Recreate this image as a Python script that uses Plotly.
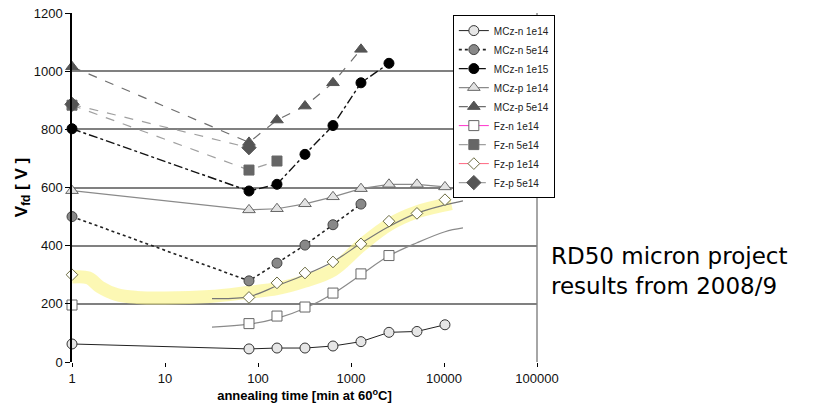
import plotly.graph_objects as go

# annealing times [min at 60 C]; the unannealed state is placed at 1
t_all = [1, 80, 160, 320, 640, 1280, 2560, 5120, 10240]

mczn_1e14 = [62, 45, 48, 48, 55, 70, 102, 105, 128]
mczn_5e14_t = [1, 80, 160, 320, 640, 1280]
mczn_5e14 = [500, 279, 340, 402, 472, 543]
mczn_1e15_t = [1, 80, 160, 320, 640, 1280, 2560]
mczn_1e15 = [802, 588, 611, 714, 813, 960, 1027]
mczp_1e14 = [589, 523, 527, 544, 568, 596, 611, 611, 602]
mczp_5e14_t = [1, 80, 160, 320, 640, 1280]
mczp_5e14 = [1015, 755, 832, 880, 960, 1075]
fzn_1e14_t = [1, 80, 160, 320, 640, 1280, 2560]
fzn_1e14 = [196, 132, 158, 189, 237, 303, 366]
fzn_5e14_t = [1, 80, 160]
fzn_5e14 = [883, 660, 691]
fzp_1e14 = [300, 222, 272, 306, 344, 406, 484, 511, 558]
fzp_5e14_t = [1, 80]
fzp_5e14 = [886, 737]

# model curves drawn through the Fz 1e14 data
fit_t = [32, 80, 160, 320, 640, 1280, 2560, 5120, 10240, 16000]
fit_fzn = [120, 130, 150, 185, 235, 300, 365, 410, 448, 461]
fit_fzp = [218, 225, 262, 300, 345, 408, 466, 512, 540, 554]

# highlighted trend band
band_t = [1, 1.5, 2, 3, 5, 10, 30, 80, 160, 320, 640, 1280, 2560, 5120, 12000]
band_v = [292, 289, 258, 232, 222, 220, 225, 240, 252, 278, 316, 400, 472, 516, 545]

yticks = [0, 200, 400, 600, 800, 1000, 1200]
xticks = [1, 10, 100, 1000, 10000, 100000]
xtick_text = ["1", "10", "100", "1000", "10000", "100000"]


def gapped(xs, ys):
    # isolated points: markers are drawn but no connecting segments
    gx, gy = [], []
    for a, b in zip(xs, ys):
        gx += [a, None]
        gy += [b, None]
    return gx, gy


fig = go.Figure()

fig.add_trace(go.Scatter(x=band_t, y=band_v, mode="lines", showlegend=False,
                         line=dict(color="rgba(250,245,140,0.65)", width=13, shape="spline"),
                         hoverinfo="skip"))
fig.add_trace(go.Scatter(x=fit_t, y=fit_fzn, mode="lines", showlegend=False,
                         line=dict(color="#8a8a8a", width=1.2, shape="spline")))
fig.add_trace(go.Scatter(x=fit_t, y=fit_fzp, mode="lines", showlegend=False,
                         line=dict(color="#777777", width=1.2, shape="spline")))

fig.add_trace(go.Scatter(x=t_all, y=mczn_1e14, mode="lines+markers", name="MCz-n 1e14",
                         line=dict(color="#222222", width=1),
                         marker=dict(symbol="circle", size=10, color="#e6e6e6",
                                     line=dict(color="#333333", width=1))))
fig.add_trace(go.Scatter(x=mczn_5e14_t, y=mczn_5e14, mode="lines+markers", name="MCz-n 5e14",
                         line=dict(color="#222222", width=1.6, dash="dot"),
                         marker=dict(symbol="circle", size=10, color="#888888",
                                     line=dict(color="#444444", width=1))))
fig.add_trace(go.Scatter(x=mczn_1e15_t, y=mczn_1e15, mode="lines+markers", name="MCz-n 1e15",
                         line=dict(color="#111111", width=1.4, dash="dashdot"),
                         marker=dict(symbol="circle", size=10, color="#000000",
                                     line=dict(color="#000000", width=1))))
fig.add_trace(go.Scatter(x=t_all, y=mczp_1e14, mode="lines+markers", name="MCz-p 1e14",
                         line=dict(color="#8a8a8a", width=1.2),
                         marker=dict(symbol="triangle-up", size=11, color="#e2e2e2",
                                     line=dict(color="#666666", width=1))))
fig.add_trace(go.Scatter(x=mczp_5e14_t, y=mczp_5e14, mode="lines+markers", name="MCz-p 5e14",
                         line=dict(color="#6e6e6e", width=1.2, dash="dash"),
                         marker=dict(symbol="triangle-up", size=11, color="#555555",
                                     line=dict(color="#555555", width=1))))
gx, gy = gapped(fzn_1e14_t, fzn_1e14)
fig.add_trace(go.Scatter(x=gx, y=gy, mode="lines+markers", name="Fz-n 1e14",
                         connectgaps=False, line=dict(color="#ff33cc", width=1),
                         marker=dict(symbol="square", size=10, color="#ffffff",
                                     line=dict(color="#666666", width=1))))
fig.add_trace(go.Scatter(x=fzn_5e14_t, y=fzn_5e14, mode="lines+markers", name="Fz-n 5e14",
                         line=dict(color="#a0a0a0", width=1.2, dash="dash"),
                         marker=dict(symbol="square", size=10, color="#666666",
                                     line=dict(color="#666666", width=1))))
gx, gy = gapped(t_all, fzp_1e14)
fig.add_trace(go.Scatter(x=gx, y=gy, mode="lines+markers", name="Fz-p 1e14",
                         connectgaps=False, line=dict(color="#ff6680", width=1),
                         marker=dict(symbol="diamond", size=9, color="#ffffff",
                                     line=dict(color="#6b6b40", width=1))))
fig.add_trace(go.Scatter(x=fzp_5e14_t, y=fzp_5e14, mode="lines+markers", name="Fz-p 5e14",
                         line=dict(color="#a0a0a0", width=1.2, dash="dash"),
                         marker=dict(symbol="diamond", size=11, color="#555555",
                                     line=dict(color="#555555", width=1))))

fig.update_traces(cliponaxis=False)

fig.update_layout(
    width=832, height=408,
    margin=dict(l=72, r=295, t=13, b=46),
    paper_bgcolor="white", plot_bgcolor="white",
    font=dict(family="Liberation Sans, Arial, sans-serif", size=12, color="#111111"),
    xaxis=dict(type="log", range=[0, 5], tickvals=xticks, ticktext=xtick_text,
               showgrid=False, zeroline=False, showline=False, automargin=False,
               ticks="outside", ticklen=4, tickcolor="#000000",
               tickfont=dict(size=13, color="#111111"),
               title=dict(text="<b>annealing time [min at 60<sup>o</sup>C]</b>",
                          font=dict(size=13, color="#000000"), standoff=6)),
    yaxis=dict(range=[0, 1200], tickvals=yticks, showgrid=True, automargin=False,
               gridcolor="#808080", gridwidth=1.5, zeroline=False,
               showline=True, linecolor="#000000", linewidth=1.5,
               ticks="outside", ticklen=5, tickcolor="#000000",
               tickfont=dict(size=13, color="#111111"),
               title=dict(text="<b>V<sub>fd</sub> [ V ]</b>",
                          font=dict(size=17, color="#000000"), standoff=2)),
    legend=dict(x=0.819, y=0.994, xanchor="left", yanchor="top",
                bgcolor="white", bordercolor="#000000", borderwidth=1,
                font=dict(size=10, color="#222222"), tracegroupgap=0,
                itemwidth=30),
)

# right-hand frame edge
fig.add_shape(type="line", xref="paper", yref="paper", x0=1, x1=1, y0=0, y1=1,
              line=dict(color="#888888", width=1.5), layer="below")

fig.add_annotation(text="RD50 micron project<br>results from 2008/9",
                   xref="paper", yref="paper",
                   x=(549 - 72) / 465, y=(362 - 271) / 349, xanchor="left", yanchor="middle",
                   align="left", showarrow=False,
                   font=dict(family="DejaVu Sans", size=23, color="#000000"))

fig.write_html("out.html")
